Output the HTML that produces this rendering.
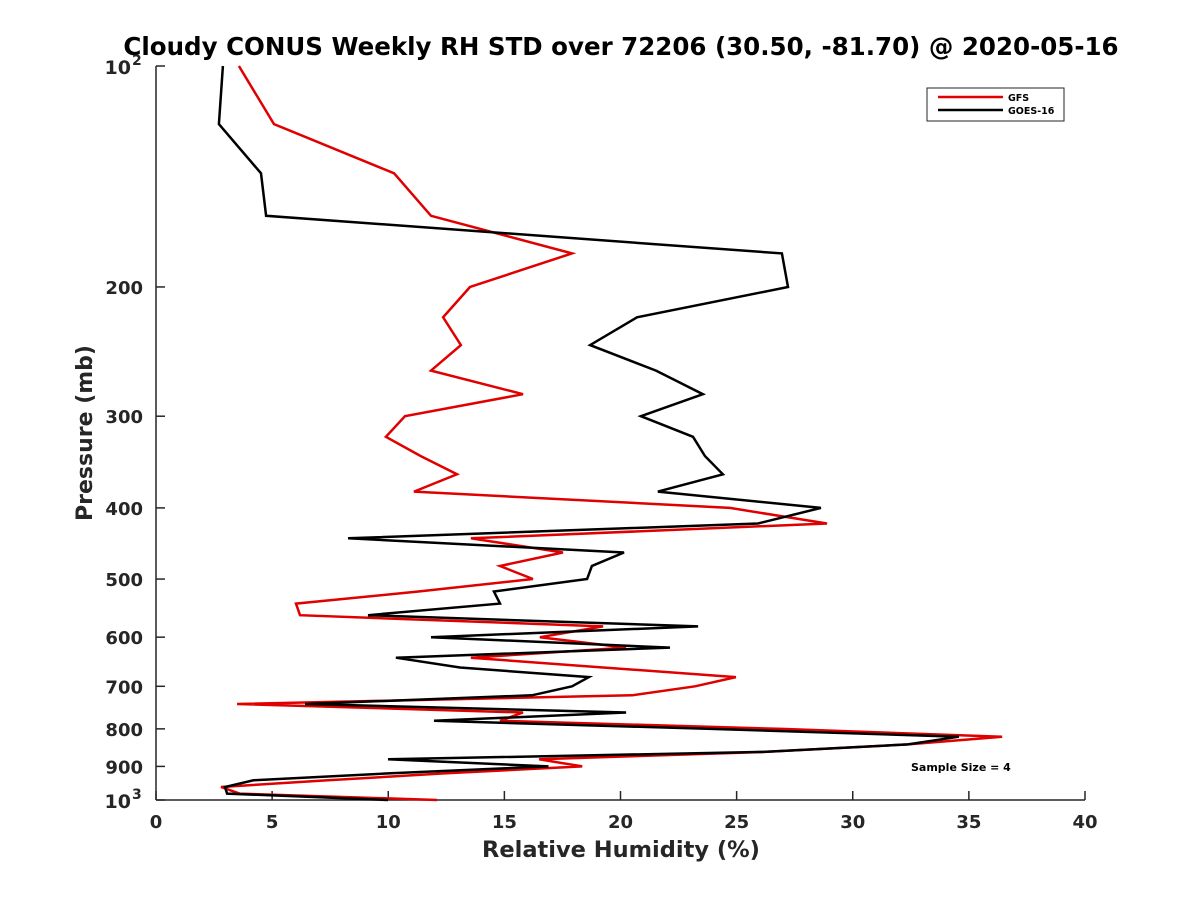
<!DOCTYPE html>
<html><head><meta charset="utf-8"><style>
body{margin:0;background:#fff;}
svg{display:block;font-family:"DejaVu Sans","Liberation Sans",sans-serif;font-weight:bold;}
</style></head><body>
<svg id="chart" width="1200" height="900" viewBox="0 0 1200 900">
<rect width="1200" height="900" fill="#fff"/>
<text x="621" y="55" text-anchor="middle" font-size="24.5" fill="#000">Cloudy CONUS Weekly RH STD over 72206 (30.50, -81.70) @ 2020-05-16</text>
<g id="axes"></g>
<g id="series"></g>
<text x="621" y="857" text-anchor="middle" font-size="22.5" fill="#262626">Relative Humidity (%)</text>
<text transform="translate(92,433) rotate(-90)" text-anchor="middle" font-size="22" fill="#262626">Pressure (mb)</text>
<text x="911" y="771" font-size="11" fill="#000">Sample Size = 4</text>
<g>
<rect x="927" y="88" width="137" height="33" fill="#fff" stroke="#262626" stroke-width="1"/>
<g>
<line x1="938" y1="97" x2="1003" y2="97" stroke="#e00000" stroke-width="2.5"/>
<text x="1008" y="101" font-size="9.5" fill="#000">GFS</text></g>
<g>
<line x1="938" y1="110" x2="1003" y2="110" stroke="#000" stroke-width="2.5"/>
<text x="1008" y="114" font-size="9.5" fill="#000">GOES-16</text></g>
</g>
</svg>
<script>
const pressures=[100,120,140,160,180,200,220,240,260,280,300,320,340,360,380,400,420,440,460,480,500,520,540,560,580,600,620,640,660,680,700,720,740,760,780,800,820,840,860,880,900,920,940,960,980,1000];
const gfsRH=[3.57,5.08,10.25,11.84,17.91,13.52,12.36,13.13,11.84,15.80,10.72,9.90,11.4,12.96,11.11,24.71,28.89,13.56,17.52,14.81,16.23,11.3,6.03,6.20,19.25,16.53,20.24,13.56,19.25,24.97,23.21,20.50,3.49,15.80,14.81,26.95,36.43,32.38,26.2,16.5,18.35,12.4,7.4,2.8,3.6,12.1];
const goesRH=[2.88,2.71,4.52,4.74,26.95,27.21,20.71,18.69,21.53,23.55,20.88,23.12,23.64,24.41,21.61,28.63,25.92,8.27,20.15,18.77,18.56,14.55,14.81,9.13,23.34,11.84,22.13,10.33,13.09,18.64,17.91,16.19,6.42,20.24,11.97,23.9,34.57,32.38,26.18,9.99,16.9,10.0,4.2,2.97,3.06,9.99];
const xTicks=[0,5,10,15,20,25,30,35,40];
const yTicks=[100,200,300,400,500,600,700,800,900,1000];
const yTickLabels=["10^2","200","300","400","500","600","700","800","900","10^3"];
const X0=156,X1=1085,Y0=66,Y1=800;
const xs=v=>X0+(v-0)/(40-0)*(X1-X0);
const ys=p=>Y0+(Math.log10(p)-2)*(Y1-Y0);
const NS="http://www.w3.org/2000/svg";
const axes=document.getElementById('axes'),series=document.getElementById('series');
function mk(t,a,parent){const e=document.createElementNS(NS,t);for(const k in a)e.setAttribute(k,a[k]);parent.appendChild(e);return e;}
const ax=mk('line',{x1:X0,y1:Y1,x2:X1,y2:Y1,stroke:'#262626','stroke-width':1.5},axes);


const ay=mk('line',{x1:X0,y1:Y0,x2:X0,y2:Y1,stroke:'#262626','stroke-width':1.5},axes);


xTicks.forEach(v=>{
 const t=mk('line',{x1:xs(v),y1:Y1,x2:xs(v),y2:Y1-9,stroke:'#262626','stroke-width':1.5},axes);
 
 
 const l=mk('text',{x:xs(v),y:Y1+28,'text-anchor':'middle','font-size':18,fill:'#262626'},axes);
 l.textContent=v;
 
 
});
yTicks.forEach((p,i)=>{
 const t=mk('line',{x1:X0,y1:ys(p),x2:X0+9,y2:ys(p),stroke:'#262626','stroke-width':1.5},axes);
 
 
 const lab=yTickLabels[i];
 if(lab.indexOf('^')>=0){
  const parts=lab.split('^');
  const l=mk('text',{x:X0-25,y:ys(p)+8,'text-anchor':'end','font-size':19,fill:'#262626'},axes);
  l.textContent=parts[0];
  
  
  const s=mk('text',{x:X0-24,y:ys(p)-1,'text-anchor':'start','font-size':14,fill:'#262626'},axes);
  s.textContent=parts[1];
  
  
 } else {
  const l=mk('text',{x:X0-13,y:ys(p)+7,'text-anchor':'end','font-size':18,fill:'#262626'},axes);
  l.textContent=lab;
  
  
 }
});
function drawLine(vals,color,name){
 const d=vals.map((v,i)=>(i?'L':'M')+xs(v).toFixed(1)+','+ys(pressures[i]).toFixed(1)).join(' ');
 const p=mk('path',{d:d,fill:'none',stroke:color,'stroke-width':2.5,'stroke-linejoin':'miter'},series);
 
 
}
drawLine(gfsRH,'#e00000','gfs-line');
drawLine(goesRH,'#000000','goes16-line');
</script>
</body></html>
